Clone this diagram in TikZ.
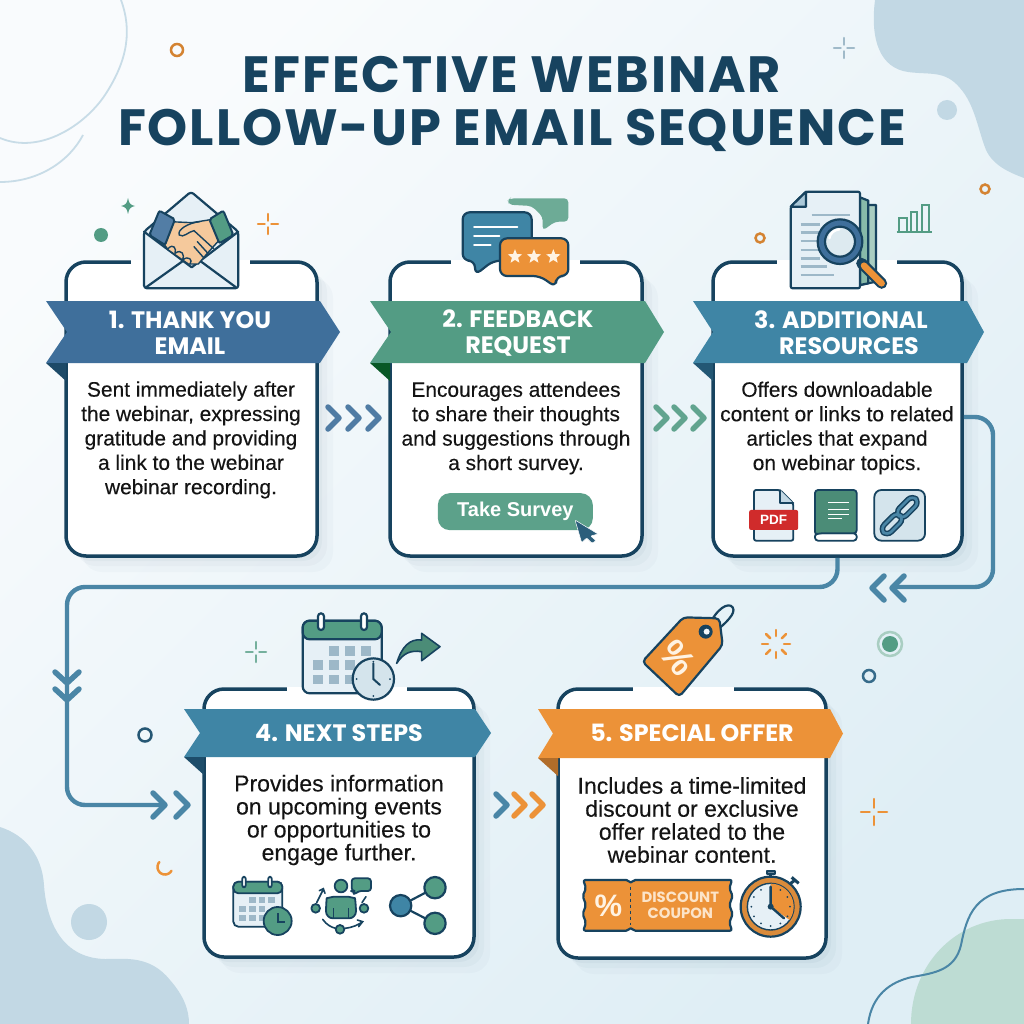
\documentclass[tikz,border=0pt]{standalone}
\usepackage{fontspec}
\setmainfont{Liberation Sans}
\newfontfamily\headfont{Poppins}
\newfontfamily\bodyfont[FakeBold=0.25]{Liberation Sans}
\usetikzlibrary{calc,shapes.geometric,shadows}

\definecolor{navy}{HTML}{17435F}
\definecolor{bluea}{HTML}{3F6F9B}
\definecolor{blueb}{HTML}{3F85A5}
\definecolor{greena}{HTML}{539C84}
\definecolor{greenb}{HTML}{BDDCD3}
\definecolor{orangea}{HTML}{EC9238}
\definecolor{blob}{HTML}{C2D8E4}
\definecolor{iconbg}{HTML}{E6F0F6}
\definecolor{cell}{HTML}{9DB8C8}
\definecolor{flow}{HTML}{4A86A6}
\definecolor{cream}{HTML}{FFF3E3}
\definecolor{pdfred}{HTML}{D02B2B}
\definecolor{backlow}{HTML}{DFEEF5}

\tikzset{
	card/.style={draw=navy, line width=3.5pt, fill=white, rounded corners=20pt, inner sep=0pt,
		general shadow={shadow xshift=5pt, shadow yshift=-5pt, fill=navy, opacity=.035},
		general shadow={shadow xshift=10pt, shadow yshift=-10pt, fill=navy, opacity=.03},
		general shadow={shadow xshift=16pt, shadow yshift=-16pt, fill=navy, opacity=.025}},
	bodytext/.style={align=center, inner sep=0pt, text=black!92, font=\bodyfont\fontsize{20.9}{24.4}\selectfont},
	bannertext/.style={align=center, inner sep=0pt, text=white, font=\headfont\fontsize{23.8}{26}\selectfont\bfseries},
	icon/.style={draw=navy, line width=2.2pt, line join=round, line cap=round},
	flowline/.style={draw=flow, line width=4.4pt, rounded corners=18pt},
	chevron/.style={line width=5.5pt, line cap=round, line join=round},
	spark/.style={line width=2.5pt, line cap=round},
	crop1/.style={shift={(0,170)}, scale=1/3},
	crop2/.style={shift={(360,170)}, scale=1/3},
	crop3/.style={shift={(680,170)}, scale=1/3},
	crop4/.style={shift={(40,600)}, scale=1/3},
	crop5/.style={shift={(520,590)}, scale=1/3},
}

% banner: left, notch, top right, tip, top, bottom, colour, fold colour
\newcommand{\banner}[8]{
	\fill[#7] (#1,#5) -- (#3,#5) -- (#4,{(#5+#6)/2}) -- (#3,#6) -- (#1,#6) -- (#2,{(#5+#6)/2}) -- cycle;
	\fill[#8] (#1,#6) -- ({#1+20},#6) -- ({#1+20},{#6+18}) -- cycle;
}
% small plus with a gap in the middle
\newcommand{\sparkplus}[4]{
	\draw[spark, #3] ({#1-#4},#2) -- ({#1-#4/3},#2) ({#1+#4/3},#2) -- ({#1+#4},#2) (#1,{#2-#4}) -- (#1,{#2-#4/3}) (#1,{#2+#4/3}) -- (#1,{#2+#4});
}

\begin{document}
\begin{tikzpicture}[x=1pt, y=-1pt]

	\useasboundingbox (0,0) rectangle (1024,1024);
	\shade[top color=white!75!iconbg, bottom color=backlow, shading angle=45] (0,0) rectangle (1024,1024);

	% background shapes
	\fill[blob] (875,0) .. controls (870,40) and (880,68) .. (908,72) .. controls (930,75) and (945,70) .. (960,88) .. controls (975,105) and (978,130) .. (986,150) .. controls (993,165) and (1008,172) .. (1024,178) -- (1024,0) -- cycle;
	\fill[blob] (947,110) circle (10);
	\fill[blob] (0,827) .. controls (25,835) and (42,855) .. (44,885) .. controls (46,915) and (58,958) .. (105,959) .. controls (125,959) and (150,955) .. (170,980) .. controls (184,996) and (189,1010) .. (189,1024) -- (0,1024) -- cycle;
	\fill[blob] (89,922) circle (18);
	\fill[greenb] (911,1024) .. controls (911,965) and (955,919) .. (1011,919) -- (1024,919) -- (1024,1024) -- cycle;
	\draw[line width=1.8pt, blob!90!white] (121,0) .. controls (132,30) and (128,60) .. (105,95) .. controls (85,125) and (40,155) .. (0,138);
	\draw[line width=1.8pt, blob!90!white] (83,135) .. controls (70,160) and (40,182) .. (0,182);
	\draw[line width=2pt, flow] (868,1024) .. controls (872,995) and (890,982) .. (912,977) .. controls (935,973) and (955,970) .. (961,945) .. controls (967,915) and (975,889) .. (1024,889);

	% small decorations
	\draw[line width=2.5pt, orangea!90!black] (177,50) circle (6);
	\draw[line width=2.5pt, orangea!90!black] (985,189) circle (4.5);
	\draw[line width=2.5pt, orangea!90!black] (760,238) circle (4.5);
	\draw[line width=2.5pt, navy!70!flow] (145,735) circle (6.5);
	\draw[line width=2.5pt, navy!40!flow] (869,676) circle (6);
	\draw[line width=2.5pt, greena!50!white] (890,644) circle (12);
	\fill[greena] (890,644) circle (8);
	\fill[greena] (101,235) circle (7);
	\fill[greena] (128,198) .. controls (129,203) and (130,205) .. (135,206) .. controls (130,207) and (129,209) .. (128,214) .. controls (127,209) and (126,207) .. (121,206) .. controls (126,205) and (127,203) .. (128,198) -- cycle;
	\sparkplus{844}{48}{blob!80!navy}{10}
	\sparkplus{268}{224}{orangea}{10}
	\sparkplus{256}{652}{greena!80!white}{10}
	\sparkplus{874}{812}{orangea}{13}
	\draw[spark, orangea] plot[domain=30:221, samples=14, smooth] ({165+7.5*cos(\x)},{867+7.5*sin(\x)});
	\foreach \a in {0,45,...,315}
		\draw[spark, orangea] ({776+8*cos(\a)},{644+8*sin(\a)}) -- ({776+14*cos(\a)},{644+14*sin(\a)});

	% cards
	\node (card1) [card, minimum width=251pt, minimum height=294pt] at (191.5,409) {};
	\node (card2) [card, minimum width=252pt, minimum height=294pt] at (516,409) {};
	\node (card3) [card, minimum width=249pt, minimum height=294pt] at (837.5,409) {};
	\node (card4) [card, minimum width=270pt, minimum height=268pt] at (339,823) {};
	\node (card5) [card, minimum width=268pt, minimum height=269pt] at (692,823.5) {};

	% gaps in the top edge, below the icons
	\foreach \a/\b/\y in {131/250/262, 451/580/262, 777/897/262, 287/407/689, 633/734/689}
		\draw[white, line width=4.5pt] (\a,\y) -- (\b,\y);

	% connectors
	\draw[flowline] (card3.south) |- (67,587) -- (67,805) -- (165,805) coordinate (entry4);
	\draw[flowline] ([yshift=-8pt]card3.east) -| (993,587) -- (893,587) coordinate (back3);

	\foreach \x/\c in {339/bluea, 359/bluea, 379/bluea, 667/greena, 685/greena, 704/greena}
		\draw[chevron, \c, opacity=.9] ({\x-11},407) -- (\x,418) -- ({\x-11},429);
	\foreach \x/\c in {507/flow, 525/orangea, 543/orangea}
		\draw[chevron, \c] ({\x-11},794) -- (\x,805) -- ({\x-11},816);
	\foreach \x in {165,188}
		\draw[chevron, flow] ({\x-12},793) -- (\x,805) -- ({\x-12},817);
	\foreach \x in {872,892}
		\draw[chevron, flow] ({\x+12},576) -- (\x,588) -- ({\x+12},600);
	\foreach \y in {683,700}
		\draw[chevron, flow] (55,{\y-11}) -- (67,\y) -- (79,{\y-11});

	% banners
	\banner{46}{67}{320}{340}{301}{363}{bluea}{navy!85!bluea}
	\banner{370}{391}{645}{664}{301}{363}{greena}{green!40!black!60!navy}
	\banner{693}{713}{967}{984}{301}{363}{blueb}{navy!70!blueb}
	\banner{184}{200}{475}{491}{709}{757}{blueb}{navy!85!blueb}
	\banner{538}{553}{830}{843}{709}{758}{orangea}{orangea!75!black}

	\node (head1) [bannertext] at (190,333) {1. THANK YOU\\EMAIL};
	\node (head2) [bannertext] at (518,333) {2. FEEDBACK\\REQUEST};
	\node (head3) [bannertext] at (841,333) {3. ADDITIONAL\\\hspace*{16pt}RESOURCES};
	\node (head4) [bannertext] at (339,733) {4. NEXT STEPS};
	\node (head5) [bannertext] at (692,733) {5. SPECIAL OFFER};

	\node (title) [align=center, inner sep=0pt, text=navy, font=\headfont\addfontfeature{LetterSpace=3.7}\fontsize{51}{53}\selectfont\bfseries] at (512,104) {EFFECTIVE WEBINAR\\FOLLOW-UP EMAIL SEQUENCE};

	% body texts
	\node (body1) [bodytext] at (191,440) {Sent immediately after\\the webinar, expressing\\gratitude and providing\\a link to the webinar\\webinar recording.};
	\node (body2) [bodytext] at (516,428) {Encourages attendees\\to share their thoughts\\and suggestions through\\a short survey.};
	\node (body3) [bodytext] at (837,428) {Offers downloadable\\content or links to related\\articles that expand\\on webinar topics.};
	\node (body4) [bodytext, font=\bodyfont\fontsize{23}{23}\selectfont] at (339,820) {Provides information\\on upcoming events\\or opportunities to\\engage further.};
	\node (body5) [bodytext, font=\bodyfont\fontsize{23}{23}\selectfont] at (692,820) {Includes a time-limited\\discount or exclusive\\offer related to the\\webinar content.};

	% envelope
	\begin{scope}[shift={(120,180)}, scale=1/3]
		\filldraw[icon, fill=iconbg, rounded corners=3pt] (72,155) -- (213,35) -- (355,155) -- (355,325) -- (72,325) -- cycle;
		\draw[icon] (72,155) -- (215,262) -- (355,155);
		\draw[icon] (78,322) -- (200,235) (348,322) -- (230,235);
		\filldraw[draw=navy, line width=1.4pt, fill=orangea!50!white, line join=round] (150,125) -- (215,128) -- (278,118) -- (298,180) -- (262,220) -- (235,252) -- (205,252) -- (145,210) -- (130,190) -- cycle;
		\draw[navy, line width=1.4pt, line cap=round] (240,125) .. controls (205,128) and (170,150) .. (178,165) .. controls (190,175) and (205,155) .. (222,152) -- (280,205);
		\draw[navy, line width=1.4pt, line cap=round] (232,185) -- (262,218) (222,200) -- (250,232) (145,205) .. controls (160,190) and (170,205) .. (165,220) (165,220) .. controls (185,205) and (195,225) .. (188,240) (188,240) .. controls (205,225) and (220,240) .. (210,252);
		\filldraw[draw=navy, line width=2pt, fill=bluea!90!white, rounded corners=2pt] (118,92) -- (165,118) -- (135,195) -- (88,165) -- cycle;
		\filldraw[draw=navy, line width=2pt, fill=greena, rounded corners=2pt] (310,92) -- (268,118) -- (298,190) -- (340,165) -- cycle;
	\end{scope}

	% speech bubbles
	\begin{scope}[crop2]
		\fill[greena!85!white, rounded corners=4pt] (445,90) -- (450,85) -- (625,85) -- (625,155) -- (585,155) -- (548,182) -- (548,140) -- (515,108) -- (445,104) -- cycle;
		\filldraw[icon, fill=blueb, rounded corners=7pt] (308,127) -- (515,127) -- (515,272) -- (400,272) -- (345,315) -- (345,272) -- (308,272) -- cycle;
		\draw[white, line width=2pt, line cap=round] (342,170) -- (472,170) (342,198) -- (418,198) (342,226) -- (392,226);
		\filldraw[icon, fill=orangea, rounded corners=7pt] (420,205) -- (625,205) -- (625,318) -- (588,318) -- (588,352) -- (540,318) -- (420,318) -- cycle;
		\foreach \i/\x in {1/465, 2/522, 3/580}
			\node (star\i) [star, star points=5, star point ratio=2.3, fill=cream, inner sep=0pt, minimum size=15pt] at (\x,260) {};
		\node (survey) [fill=greena!95!white, rounded corners=12pt, minimum width=155pt, minimum height=37pt, inner sep=0pt, text=white, font=\fontsize{20}{24}\selectfont] at (466,1025) {\textbf{Take Survey}};
		\filldraw[draw=white, line width=.5pt, fill=navy!60!flow, rounded corners=1pt] (645,1050) -- (714,1092) -- (692,1098) -- (708,1112) -- (696,1120) -- (680,1104) -- (665,1118) -- cycle;
	\end{scope}

	% document with magnifier, chart, resource icons
	\begin{scope}[crop3]
		\filldraw[icon, fill=greena!50!white] (560,105) -- (588,105) -- (588,335) -- (540,345) -- cycle;
		\filldraw[icon, fill=greena!70!white] (540,82) -- (565,92) -- (565,340) -- (540,345) -- cycle;
		\filldraw[icon, fill=iconbg, rounded corners=2pt] (378,65) -- (540,65) -- (540,355) -- (332,355) -- (332,110) -- cycle;
		\filldraw[icon, fill=blob!80!flow] (378,65) -- (378,110) -- (332,110) -- cycle;
		\foreach \y/\x in {135/510, 163/420, 187/420, 213/420, 240/420, 265/420, 290/440, 315/462}
			\draw[cell, line width=2.4pt] ({\x==510 ? 395 : 362},\y) -- (\x,\y);
		\draw[navy, line width=11pt, line cap=round] (545,280) -- (605,340);
		\draw[orangea, line width=6.5pt, line cap=round] (552,287) -- (605,340);
		\filldraw[icon, fill=bluea] (480,215) circle (67);
		\filldraw[icon, fill=blob!55!white] (480,215) circle (45);
		\draw[white, line width=2.4pt, line cap=round] (448,205) .. controls (450,190) and (462,180) .. (478,178);
		% chart
		\draw[greena, line width=1.8pt] (650,185) -- (755,185);
		\foreach \a/\b/\y in {658/682/145, 692/712/127, 725/748/105}
			\draw[greena, line width=1.8pt] (\a,185) rectangle (\b,\y);
		% pdf
		\filldraw[icon, line width=1.8pt, fill=iconbg, rounded corners=2pt] (222,960) -- (300,960) -- (340,1000) -- (340,1112) -- (222,1112) -- cycle;
		\draw[icon, line width=1.8pt, fill=blob] (300,960) -- (300,1000) -- (340,1000);
		\node (pdf) [fill=pdfred, rounded corners=2pt, minimum width=49pt, minimum height=20pt, inner sep=0pt, text=white, font=\fontsize{13.5}{14}\selectfont\bfseries] at (281,1050) {PDF};
		% book
		\filldraw[icon, line width=1.8pt, fill=white, rounded corners=3pt] (405,1090) -- (405,1112) -- (530,1112) -- (530,1090) -- cycle;
		\filldraw[icon, line width=1.8pt, fill=greena!90!black, rounded corners=3pt] (405,1095) -- (405,960) -- (530,960) -- (530,1090) -- (415,1090) -- cycle;
		\draw[white, line width=1.4pt] (445,998) -- (508,998) (445,1018) -- (508,1018) (445,1034) -- (508,1034) (445,1046) -- (485,1046);
		% link
		\filldraw[icon, line width=1.8pt, fill=blob!70!white, rounded corners=7pt] (583,960) rectangle (735,1112);
		\foreach \x/\y in {636/1062, 682/1012}
			\draw[rotate around={45:(\x,\y)}, draw=navy, line width=5.6pt, rounded corners=6pt] ({\x-36},{\y-15}) rectangle ({\x+36},{\y+15});
		\foreach \x/\y in {636/1062, 682/1012}
			\draw[rotate around={45:(\x,\y)}, draw=flow, line width=2.6pt, rounded corners=6pt] ({\x-36},{\y-15}) rectangle ({\x+36},{\y+15});
	\end{scope}

	% calendar, clock, arrow, next step icons
	\begin{scope}[crop4]
		\filldraw[icon, fill=iconbg, rounded corners=7pt] (788,62) rectangle (1025,280);
		\filldraw[icon, fill=greena, rounded corners=7pt] (788,118) -- (788,62) -- (1025,62) -- (1025,118) -- cycle;
		\foreach \x in {843,972}
			\filldraw[icon, fill=white, rounded corners=3pt] ({\x-9},40) rectangle ({\x+9},90);
		\foreach \x/\y in {882/153, 930/153, 978/153, 833/195, 882/195, 930/195, 833/238, 882/238, 930/238}
			\fill[cell] ({\x-15},{\y-14}) rectangle ({\x+15},{\y+14});
		\filldraw[icon, fill=blob!70!white] (1000,237) circle (62);
		\draw[navy, line width=2pt, line cap=round] (1000,190) -- (1000,237) -- (1020,255);
		\foreach \x/\y in {1000/185, 1000/288, 950/237, 1050/237}
			\fill[navy] (\x,\y) circle (3);
		\filldraw[icon, line width=1.6pt, fill=greena!90!black] (1070,190) .. controls (1085,140) and (1110,115) .. (1145,120) -- (1145,100) -- (1200,140) -- (1145,182) -- (1145,155) .. controls (1110,150) and (1090,160) .. cycle;
		% mini calendar
		\filldraw[icon, line width=1.8pt, fill=iconbg, rounded corners=5pt] (580,845) rectangle (727,980);
		\filldraw[icon, line width=1.8pt, fill=greena, rounded corners=5pt] (580,880) -- (580,845) -- (727,845) -- (727,880) -- cycle;
		\foreach \x in {612,690}
			\filldraw[icon, line width=1.8pt, fill=white, rounded corners=2pt] ({\x-5},830) rectangle ({\x+5},862);
		\foreach \x/\y in {637/901, 666/901, 695/901, 607/927, 637/927, 666/927, 607/953, 637/953, 666/953}
			\fill[cell] ({\x-10},{\y-9}) rectangle ({\x+10},{\y+9});
		\filldraw[icon, line width=1.8pt, fill=greena] (713,963) circle (42);
		\draw[navy, line width=2pt] (715,940) -- (715,965) -- (735,965);
		% person with links
		\filldraw[icon, line width=1.8pt, fill=greena] (903,858) circle (19);
		\filldraw[icon, line width=1.8pt, fill=greena, rounded corners=7pt] (858,955) -- (858,915) .. controls (860,895) and (880,890) .. (903,890) .. controls (925,890) and (945,895) .. (948,915) -- (948,955) -- cycle;
		\draw[navy, line width=1.6pt] (880,925) -- (880,955) (925,925) -- (925,955);
		\filldraw[icon, line width=1.8pt, fill=greena, rounded corners=3pt] (935,835) -- (993,835) -- (993,873) -- (955,873) -- (942,885) -- (942,873) -- (935,873) -- cycle;
		\foreach \x/\y in {827/925, 972/925, 900/988}
			\filldraw[icon, line width=1.8pt, fill=greena] (\x,\y) circle (13);
		\draw[navy, line width=1.6pt, line cap=round] (830,908) -- (850,868) (838,872) -- (850,866) -- (855,880) (966,908) -- (978,890);
		\draw[navy, line width=1.6pt, line cap=round] (848,958) .. controls (860,975) and (875,982) .. (887,985) (915,985) .. controls (935,983) and (955,975) .. (968,965) (952,960) -- (968,965) -- (956,980);
		% share
		\draw[navy, line width=2.2pt] (1082,917) -- (1185,863) (1082,917) -- (1185,970);
		\filldraw[icon, fill=blueb] (1082,917) circle (32);
		\filldraw[icon, fill=greena] (1185,863) circle (32);
		\filldraw[icon, fill=greena] (1185,970) circle (32);
	\end{scope}

	% tag, coupon, stopwatch
	\begin{scope}[crop5]
		\draw[icon] (565,110) .. controls (590,55) and (625,35) .. (638,52) .. controls (650,70) and (615,100) .. (590,122);
		\filldraw[icon, fill=orangea, rounded corners=4pt] (490,82) -- (598,85) -- (608,165) -- (478,320) -- (367,215) -- cycle;
		\fill[navy] (557,125) circle (21);
		\fill[white!80!blob] (560,125) circle (9);
		\node (percent) [rotate=-50, inner sep=0pt, text=cream, font=\fontsize{37}{38}\selectfont\bfseries] at (472,205) {\%};
		\filldraw[icon, fill=orangea, rounded corners=2pt] (190,870) -- (325,870) -- (332,880) -- (340,870) -- (636,870) -- (628,895) -- (638,918) -- (628,945) -- (638,972) -- (628,998) -- (636,1022) -- (340,1022) -- (332,1012) -- (325,1022) -- (190,1022) -- (198,998) -- (188,972) -- (198,945) -- (188,918) -- (198,895) -- cycle;
		\draw[navy, line width=1.6pt, dashed] (332,890) -- (332,1005);
		\node (percent2) [inner sep=0pt, text=cream, font=\fontsize{31}{32}\selectfont\bfseries] at (265,946) {\%};
		\node (coupon) [align=center, inner sep=0pt, text=cream!85!orangea, font=\headfont\fontsize{14.8}{16}\selectfont\bfseries] at (481,947) {DISCOUNT\\COUPON};
		\filldraw[icon, fill=navy!60!white] (740,843) rectangle (765,851);
		\draw[navy, line width=3pt] (752,851) -- (752,862);
		\draw[navy, line width=3pt] (812,880) -- (828,868) (815,862) -- (836,880);
		\filldraw[icon, fill=orangea!60!brown] (752,950) circle (90);
		\filldraw[draw=navy, line width=1.4pt, fill=iconbg] (752,950) circle (70);
		\fill[orangea] (752,950) -- plot[domain=-90:35, samples=20] ({752+69*cos(\x)},{950+69*sin(\x)}) -- cycle;
		\foreach \a in {0,30,...,330}
			\fill[navy] ({752+58*cos(\a)},{950+58*sin(\a)}) circle (3);
		\draw[navy, line width=2.4pt, line cap=round] (752,890) -- (752,950) -- (792,985);
		\fill[navy] (752,950) circle (9);
	\end{scope}

\end{tikzpicture}
\end{document}
